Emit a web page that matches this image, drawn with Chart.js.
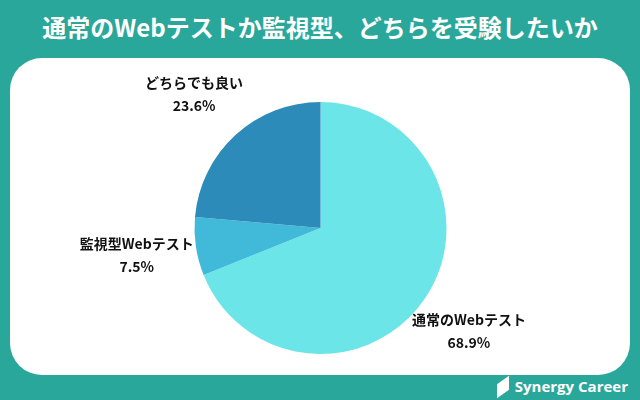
<!DOCTYPE html>
<html>
<head>
<meta charset="utf-8">
<script src="https://cdn.jsdelivr.net/npm/chart.js@4"></script>
<style>
  body { margin: 0; width: 640px; height: 400px; background: #2aa79b; position: relative; overflow: hidden;
         font-family: "Noto Sans CJK JP", sans-serif; }
  #title { position: absolute; top: 9px; width: 100%; text-align: center; color: #fff; font-weight: bold; font-size: 24px; }
  #panel { position: absolute; left: 10px; top: 58px; width: 620px; height: 317px; background: #fff; border-radius: 32px; }
  #logo { position: absolute; right: 12px; bottom: 4px; color: #fff; font-weight: bold; font-size: 15px; font-family: "Open Sans", sans-serif; }
  #logo span { display: inline-block; width: 12px; height: 14px; background: #fff; transform: skewY(-35deg); margin-right: 6px; vertical-align: -2px; }
  canvas { position: absolute; left: 0; top: 0; }
</style>
</head>
<body>
<div id="title">通常のWebテストか監視型、どちらを受験したいか</div>
<div id="panel"></div>
<div id="logo"><span></span>Synergy Career</div>
<canvas id="c" width="640" height="400"></canvas>
<script>
const categories = ['通常のWebテスト', '監視型Webテスト', 'どちらでも良い'];
const values = [68.9, 7.5, 23.6];
const colors = ['#6ce5e9', '#41b9d9', '#2d8bba'];

const outLabels = {
  id: 'outLabels',
  afterDraw(chart) {
    const ctx = chart.ctx;
    chart.getDatasetMeta(0).data.forEach((arc, i) => {
      const mid = (arc.startAngle + arc.endAngle) / 2;
      const r = arc.outerRadius * 1.45;
      const x = arc.x + Math.cos(mid) * r;
      const y = arc.y + Math.sin(mid) * r;
      ctx.save();
      ctx.fillStyle = '#111';
      ctx.font = 'bold 14px "Noto Sans CJK JP"';
      ctx.textAlign = 'center';
      ctx.textBaseline = 'middle';
      ctx.fillText(categories[i], x - 3, y - 11);
      ctx.fillText(values[i].toFixed(1) + '%', x - 3, y + 12);
      ctx.restore();
    });
  }
};

new Chart(document.getElementById('c'), {
  type: 'pie',
  data: {
    labels: categories,
    datasets: [{ data: values, backgroundColor: colors, borderWidth: 0 }]
  },
  options: {
    responsive: false,
    animation: false,
    layout: { padding: { top: 102, bottom: 46, left: 1, right: 0 } },
    plugins: { legend: { display: false }, tooltip: { enabled: false } }
  },
  plugins: [outLabels]
});
</script>
</body>
</html>
